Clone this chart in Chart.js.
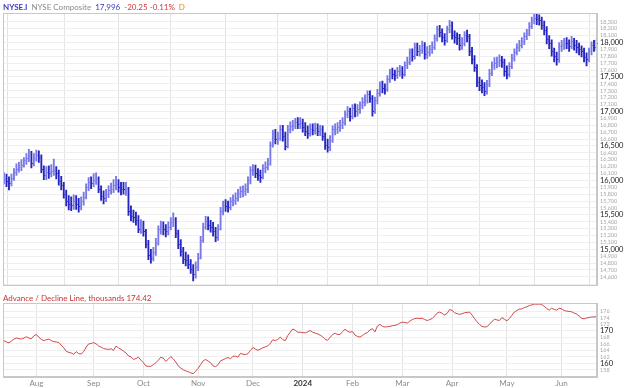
<!DOCTYPE html>
<html>
<head>
<meta charset="utf-8">
<script src="https://cdn.jsdelivr.net/npm/chart.js@4.4.0/dist/chart.umd.min.js"></script>
<style>
  body { margin: 0; background: #fff; }
  #wrap { position: relative; width: 624px; height: 388px; }
  canvas { position: absolute; left: 0; }
  #Price { top: 0; }
  #Breadth { top: 292px; }
</style>
</head>
<body>
<div id="wrap">
  <canvas id="Price" width="624" height="292"></canvas>
  <canvas id="Breadth" width="624" height="96"></canvas>
</div>
<script>
// daily bars, 12 Jul 2023 .. 21 Jun 2024 (index = trading day)
const closes = [
  16020,15990,15960,16040,16120,16170,16200,16230,16290,16320,16370,16250,16330,16370,
  16340,16170,16080,16120,16110,16140,16150,16100,15990,15930,15800,15700,15650,15640,15700,15660,15630,15700,15760,15900,15970,15960,16010,
  16030,15880,15780,15740,15800,15860,15870,15930,15950,15900,15880,15870,15880,15550,15480,15470,15420,15300,15350,15260,
  15080,14920,14880,14960,15090,15290,15330,15300,15260,15330,15390,15440,15230,15080,14970,14860,14850,14790,14720,14640,14750,14880,
  15130,15330,15410,15350,15330,15260,15180,15300,15550,15640,15630,15620,15700,15720,15750,15820,15840,15850,15870,16000,16150,
  16160,16110,16080,16050,16180,16200,16240,16510,16680,16600,16620,16750,16640,16500,16750,16790,16800,16850,16820,16830,
  16780,16720,16690,16750,16730,16760,16720,16740,16650,16520,16480,16590,16740,16750,16770,16800,16850,16960,17000,16940,17050,
  17000,17030,17090,17140,17170,17250,17200,17000,17160,17270,17380,17340,17330,17470,17560,17550,17530,17580,17600,17550,
  17670,17720,17860,17800,17940,17880,17890,17960,17830,17860,17900,17940,18060,18190,18150,18080,18040,18190,18260,18110,
  18080,18070,17960,18000,18110,18090,17880,17760,17650,17430,17380,17350,17300,17400,17560,17670,17700,17720,17740,17720,17580,17540,
  17660,17780,17860,17930,17970,18020,18090,18140,18240,18330,18360,18340,18330,18260,18180,18050,17990,17870,17800,17760,17950,17960,
  18000,17990,17950,18020,17970,17930,17900,17870,17790,17760,17870,17960,17940,17996
];
const highs = [
  16110,16090,16050,16090,16170,16240,16260,16300,16330,16390,16450,16420,16390,16440,
  16430,16370,16210,16200,16210,16230,16310,16200,16150,16060,15970,15860,15780,15760,15790,15780,15740,15760,15830,15950,16040,16050,16100,
  16110,16050,15920,15850,15870,15920,15960,16010,16060,16010,15970,15970,15970,15900,15630,15570,15540,15490,15430,15410,
  15290,15130,15000,15030,15160,15340,15410,15400,15360,15400,15460,15530,15460,15280,15140,15030,14960,14920,14850,14780,14820,14940,
  15190,15380,15480,15470,15420,15390,15320,15360,15610,15700,15720,15700,15750,15790,15820,15870,15910,15920,15950,16050,16200,
  16230,16220,16170,16150,16230,16270,16320,16560,16730,16740,16700,16800,16800,16700,16800,16850,16870,16900,16910,16910,
  16890,16840,16790,16820,16820,16830,16820,16800,16790,16690,16600,16650,16790,16820,16840,16870,16910,17010,17070,17050,17100,
  17110,17100,17140,17200,17240,17300,17300,17230,17210,17320,17430,17440,17400,17520,17610,17630,17600,17640,17670,17650,
  17720,17790,17910,17910,17990,17990,17960,18020,18000,17940,17960,18010,18110,18240,18250,18200,18130,18240,18320,18300,
  18170,18140,18120,18070,18160,18180,18120,17930,17810,17680,17500,17460,17420,17450,17610,17720,17780,17790,17820,17800,17760,17660,
  17710,17830,17910,17980,18030,18070,18140,18190,18290,18370,18410,18410,18400,18370,18310,18230,18100,18040,17920,17860,18000,18030,
  18060,18070,18040,18090,18060,18030,17990,17950,17920,17850,17920,18010,18030,18040
];
const lows = [
  15950,15910,15860,15920,16000,16070,16120,16140,16190,16230,16270,16180,16210,16280,
  16260,16110,16010,16010,16030,16050,16070,16020,15930,15860,15740,15630,15570,15560,15580,15580,15540,15570,15640,15730,15850,15880,15910,
  15940,15820,15710,15660,15690,15750,15800,15820,15860,15830,15790,15800,15780,15490,15410,15390,15350,15240,15230,15190,
  15020,14850,14800,14830,14910,15060,15220,15210,15180,15210,15280,15330,15170,15010,14900,14790,14760,14720,14650,14540,14580,14690,
  14860,15100,15290,15280,15250,15190,15110,15130,15280,15500,15550,15540,15570,15630,15650,15700,15750,15760,15780,15820,15950,
  16070,16040,16000,15970,16020,16110,16150,16220,16480,16530,16520,16580,16570,16440,16470,16690,16720,16750,16750,16750,
  16700,16650,16610,16640,16660,16670,16650,16650,16580,16450,16410,16430,16550,16660,16680,16710,16750,16800,16910,16860,16890,
  16920,16930,16970,17040,17080,17120,17130,16930,16970,17110,17220,17270,17250,17290,17420,17470,17450,17480,17510,17480,
  17510,17620,17680,17730,17760,17810,17800,17840,17760,17770,17800,17840,17900,18020,18080,18010,17960,18000,18140,18050,
  17990,17970,17890,17900,17950,18010,17810,17690,17580,17360,17300,17270,17230,17250,17360,17520,17610,17630,17650,17640,17510,17470,
  17500,17620,17730,17820,17870,17920,17970,18040,18100,18200,18270,18260,18250,18190,18110,17980,17910,17800,17720,17670,17710,17870,
  17900,17910,17870,17910,17890,17850,17820,17790,17720,17660,17720,17820,17870,17890
];
// advance / decline line, thousands
const adLine = [
  167.0,166.6,166.3,166.9,167.5,167.8,167.6,167.5,167.8,168.2,167.8,167.6,168.5,168.9,
  168.0,167.4,167.0,167.3,167.5,167.0,166.7,166.6,166.4,165.6,164.8,163.7,163.4,163.2,162.8,163.6,163.0,162.9,163.6,165.0,166.0,166.1,166.4,
  166.0,165.4,165.0,164.6,164.4,164.3,164.5,164.0,165.3,164.8,164.3,163.8,163.2,162.3,162.0,161.2,161.5,161.9,161.0,160.2,
  159.2,159.1,159.1,159.6,160.2,161.0,161.9,161.6,160.6,161.3,162.1,161.4,160.4,159.2,158.6,158.0,157.7,157.4,157.1,156.8,157.6,158.5,
  159.6,160.8,161.2,160.7,160.2,159.2,159.0,159.6,160.8,161.1,161.5,161.8,161.4,162.2,162.2,161.9,163.1,162.8,162.7,163.0,164.0,
  164.9,164.4,164.0,164.4,164.8,165.1,165.4,166.2,167.3,167.0,167.4,168.1,167.3,167.0,168.6,169.6,170.6,170.2,169.6,169.6,
  169.5,169.4,169.7,170.1,169.6,169.3,169.1,168.7,168.2,167.4,167.1,168.0,168.9,169.3,168.9,168.9,169.8,170.5,169.9,169.6,169.8,
  168.7,168.3,168.1,168.6,169.2,169.5,170.3,170.7,169.7,171.5,172.0,171.4,171.2,171.3,171.4,171.6,171.7,171.9,172.4,172.7,
  172.6,172.4,173.0,173.5,173.8,173.9,173.8,173.9,173.5,173.2,173.5,173.8,174.6,175.5,175.8,175.4,174.9,175.4,176.6,176.3,
  175.6,175.3,175.1,175.3,175.6,175.7,175.8,174.9,173.8,172.8,172.0,171.4,171.2,171.3,172.0,172.9,173.6,173.4,173.2,174.1,173.6,173.1,
  173.8,174.8,175.8,176.3,176.7,176.8,177.2,177.4,177.8,178.0,178.3,178.2,178.3,178.1,177.6,176.9,176.4,177.0,176.6,176.4,177.0,176.8,
  176.3,176.1,176.0,175.9,175.5,175.2,174.6,173.9,173.7,174.0,174.1,174.3,174.3,174.42
];
const monthIdx = [13, 36, 56, 78, 100, 120, 140, 160, 180, 202, 224];
const monthLabels = ['Aug', 'Sep', 'Oct', 'Nov', 'Dec', '2024', 'Feb', 'Mar', 'Apr', 'May', 'Jun'];

const FONT = 'Lato';
const xMin = -0.4, xMax = 238.2;
const UP = '#7878e8', DOWN = '#2525c0';

// tick helpers (context may come without a tick while measuring)
const tv = c => (c && c.tick ? c.tick.value : 0);
const isYear = c => c && c.index !== undefined && monthLabels[c.index] === '2024';
const barColor = i => (i > 0 && closes[i] < closes[i - 1]) ? DOWN : UP;

// frame round the plot area plus a coloured caption line
const panel = {
  id: 'panel',
  afterDraw(chart, args, opts) {
    const { ctx, chartArea: a } = chart;
    ctx.save();
    ctx.strokeStyle = '#c8c8c8';
    ctx.lineWidth = 1;
    ctx.strokeRect(a.left + 0.5, a.top + 0.5, a.right - a.left - 1, a.bottom - a.top - 1);
    let x = opts.x;
    for (const p of opts.pieces) {
      ctx.font = (p[2] || '') + ' 8px ' + FONT;
      ctx.fillStyle = p[1];
      ctx.fillText(p[0], x, opts.y);
      x += ctx.measureText(p[0]).width + 4;
    }
    ctx.restore();
  }
};

// small close tick on the right of each high-low bar
const closeTicks = {
  id: 'closeTicks',
  afterDatasetsDraw(chart) {
    const { ctx } = chart;
    const y = chart.scales.y;
    const meta = chart.getDatasetMeta(0);
    ctx.save();
    meta.data.forEach((el, i) => {
      ctx.fillStyle = barColor(i);
      ctx.fillRect(el.x + 0.5, Math.round(y.getPixelForValue(closes[i])), 1, 1);
    });
    ctx.restore();
  }
};

const gtx = document.getElementById('Price').getContext('2d');
const Price = new Chart(gtx, {
  type: 'bar',
  data: {
    datasets: [{
      data: closes.map((c, i) => ({ x: i, y: [lows[i], highs[i]] })),
      backgroundColor: ctx => barColor(ctx.dataIndex),
      barThickness: 1.2,
      grouped: false
    }]
  },
  options: {
    responsive: false,
    animation: false,
    layout: { padding: { left: 3, top: 13, right: 0, bottom: 1 } },
    plugins: {
      legend: { display: false },
      tooltip: { enabled: false },
      panel: {
        x: 3, y: 10,
        pieces: [['NYSE.I', '#3b3bc4', 'bold'], ['NYSE Composite', '#8a8a8a'], ['17,996', '#3b3bc4'], ['-20.25 -0.11%', '#d03838'], ['D', '#e08a2a']]
      }
    },
    scales: {
      x: {
        type: 'linear', min: xMin, max: xMax, offset: false,
        afterBuildTicks: s => { s.ticks = monthIdx.map(v => ({ value: v })); },
        ticks: { display: false },
        grid: { color: '#e4e4e4', drawTicks: false },
        border: { color: '#c8c8c8' }
      },
      y: {
        position: 'right', min: 14472, max: 18428,
        afterFit: s => { s.width = 27; },
        afterBuildTicks: s => { s.ticks = s.ticks.filter(t => t.value % 100 === 0 && t.value >= 14600 && t.value <= 18400); },
        grid: { color: '#efefef', drawTicks: false },
        border: { color: '#c8c8c8' },
        ticks: {
          stepSize: 100, padding: 3, autoSkip: false,
          color: c => tv(c) % 500 === 0 ? '#222' : '#a8a8a8',
          font: c => ({ family: FONT, size: tv(c) % 500 === 0 ? 7.5 : 5.5 }),
          callback: v => v.toLocaleString('en-US')
        }
      }
    }
  },
  plugins: [panel, closeTicks]
});

const btx = document.getElementById('Breadth').getContext('2d');
const Breadth = new Chart(btx, {
  type: 'line',
  data: {
    datasets: [{
      data: adLine.map((v, i) => ({ x: i, y: v })),
      borderColor: '#d04848',
      borderWidth: 1,
      pointRadius: 0,
      tension: 0
    }]
  },
  options: {
    responsive: false,
    animation: false,
    layout: { padding: { left: 3, top: 11, right: 0, bottom: 0 } },
    plugins: {
      legend: { display: false },
      tooltip: { enabled: false },
      panel: {
        x: 3, y: 9,
        pieces: [['Advance / Decline Line, thousands 174.42', '#c83434']]
      }
    },
    scales: {
      x: {
        type: 'linear', min: xMin, max: xMax, offset: false,
        afterFit: s => { s.height = 11; },
        afterBuildTicks: s => { s.ticks = monthIdx.map(v => ({ value: v })); },
        grid: { color: '#e4e4e4', drawTicks: false },
        border: { color: '#c8c8c8' },
        ticks: {
          padding: 2, maxRotation: 0, autoSkip: false,
          color: c => isYear(c) ? '#333' : '#8a8a8a',
          font: c => ({ family: FONT, size: 8, weight: isYear(c) ? 'bold' : 'normal' }),
          callback: (v, i) => monthLabels[i]
        }
      },
      y: {
        position: 'right', min: 155.8, max: 178.6,
        afterFit: s => { s.width = 27; },
        afterBuildTicks: s => { s.ticks = s.ticks.filter(t => Math.abs(t.value % 2) < 1e-6 && t.value >= 158 && t.value <= 178); },
        grid: { color: '#efefef', drawTicks: false },
        border: { color: '#c8c8c8' },
        ticks: {
          stepSize: 2, padding: 3, autoSkip: false,
          color: c => tv(c) % 10 === 0 ? '#222' : '#a8a8a8',
          font: c => ({ family: FONT, size: tv(c) % 10 === 0 ? 7.5 : 5.5 })
        }
      }
    }
  },
  plugins: [panel]
});
</script>
</body>
</html>
